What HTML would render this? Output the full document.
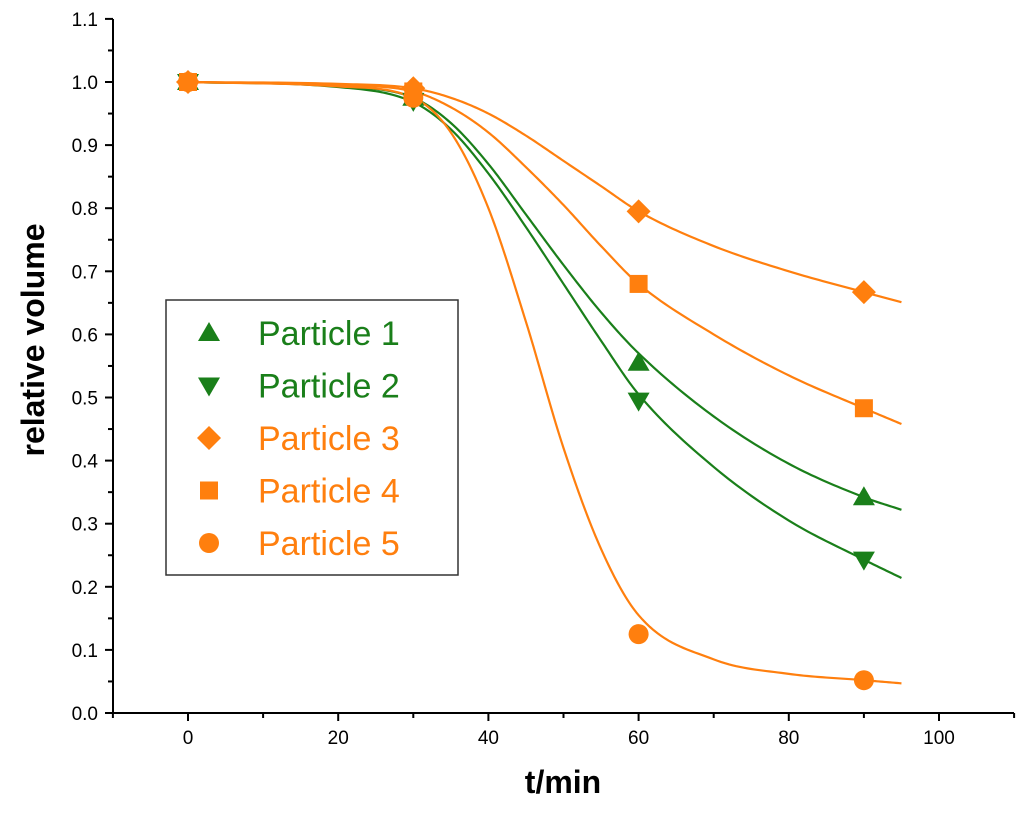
<!DOCTYPE html>
<html><head><meta charset="utf-8"><style>
body{margin:0;background:#fff;font-family:"Liberation Sans",Arial,sans-serif}
</style></head><body>
<svg id="chart" width="1024" height="812" xmlns="http://www.w3.org/2000/svg" font-family="Liberation Sans, Arial, sans-serif"></svg>
<script>
const seriesNames=["Particle 1","Particle 2","Particle 3","Particle 4","Particle 5"];
const seriesColors=["#1a7f1a","#1a7f1a","#ff7f0e","#ff7f0e","#ff7f0e"];
const seriesMarkers=["up","down","diamond","square","circle"];
const measX=[0,30,60,90];
const p1=[1.0,0.975,0.555,0.342];
const p2=[1.0,0.97,0.495,0.243];
const p3=[1.0,0.99,0.795,0.667];
const p4=[1.0,0.985,0.68,0.483];
const p5=[1.0,0.975,0.125,0.052];
const fitX=[0,20,30,35,40,45,50,55,60,70,80,90,95];
const f1=[1,0.993,0.975,0.935,0.87,0.79,0.71,0.635,0.57,0.47,0.395,0.342,0.322];
const f2=[1,0.992,0.968,0.925,0.855,0.77,0.68,0.59,0.505,0.39,0.305,0.243,0.214];
const f3=[1,0.997,0.99,0.975,0.95,0.915,0.875,0.835,0.795,0.74,0.70,0.667,0.651];
const f4=[1,0.995,0.985,0.96,0.92,0.865,0.805,0.74,0.68,0.60,0.535,0.483,0.458];
const f5=[1,0.993,0.975,0.92,0.80,0.62,0.42,0.26,0.155,0.085,0.062,0.052,0.047];
const xTicks=[0,20,40,60,80,100];
const yTicks=[0.0,0.1,0.2,0.3,0.4,0.5,0.6,0.7,0.8,0.9,1.0,1.1];
const svg=document.getElementById('chart');
const NS='http://www.w3.org/2000/svg';
const X=v=>188+v*7.51;
const Y=v=>713-v*631;
function mk(t,a){const e=document.createElementNS(NS,t);for(const k in a)e.setAttribute(k,a[k]);svg.appendChild(e);return e;}
let ax=mk('path',{d:`M113,19 V713 H1014`,fill:'none',stroke:'#000','stroke-width':2});


for(let i=-10;i<=110;i+=10){const big=i%20===0;
 let t=mk('line',{x1:X(i),x2:X(i),y1:713,y2:713+(big?8:5),stroke:'#000','stroke-width':2});
 
 }
xTicks.forEach(v=>{let t=mk('text',{x:X(v),y:744,'font-size':19,'text-anchor':'middle'});t.textContent=v;
 
 });
for(let i=0;i<=22;i++){const v=i*0.05;const big=i%2===0;
 let t=mk('line',{x1:113-(big?8:5),x2:113,y1:Y(v),y2:Y(v),stroke:'#000','stroke-width':2});
 
 }
yTicks.forEach(v=>{let t=mk('text',{x:98,y:Y(v)+7,'font-size':19,'text-anchor':'end'});t.textContent=v.toFixed(1);
 
 });
let xl=mk('text',{x:563,y:793,'font-size':32,'font-weight':'bold','text-anchor':'middle'});xl.textContent='t/min';


let yl=mk('text',{x:0,y:0,'font-size':32,'font-weight':'bold','text-anchor':'middle',transform:'translate(44,340) rotate(-90)'});yl.textContent='relative volume';


// monotone cubic (Fritsch-Carlson)
function monotone(xs,ys){const n=xs.length,d=[],m=[];
 for(let i=0;i<n-1;i++)d.push((ys[i+1]-ys[i])/(xs[i+1]-xs[i]));
 m[0]=d[0];m[n-1]=d[n-2];
 for(let i=1;i<n-1;i++)m[i]=(d[i-1]*d[i]<=0)?0:(d[i-1]+d[i])/2;
 for(let i=0;i<n-1;i++){if(d[i]===0){m[i]=m[i+1]=0;continue;}const a=m[i]/d[i],b=m[i+1]/d[i],s=a*a+b*b;if(s>9){const t=3/Math.sqrt(s);m[i]=t*a*d[i];m[i+1]=t*b*d[i];}}
 let pts=[];
 for(let i=0;i<n-1;i++){const h=xs[i+1]-xs[i];for(let k=0;k<20;k++){const t=k/20,t2=t*t,t3=t2*t;
  const y=(2*t3-3*t2+1)*ys[i]+(t3-2*t2+t)*h*m[i]+(-2*t3+3*t2)*ys[i+1]+(t3-t2)*h*m[i+1];
  pts.push(X(xs[i]+t*h).toFixed(2)+','+Y(y).toFixed(2));}}
 pts.push(X(xs[n-1])+','+Y(ys[n-1]));return pts.join(' ');}
function marker(type,cx,cy,c){let e;
 if(type==='up')e=mk('polygon',{points:`${cx},${cy-11} ${cx-11},${cy+8} ${cx+11},${cy+8}`,fill:c});
 else if(type==='down')e=mk('polygon',{points:`${cx},${cy+11} ${cx-11},${cy-8} ${cx+11},${cy-8}`,fill:c});
 else if(type==='diamond')e=mk('polygon',{points:`${cx},${cy-12} ${cx+12},${cy} ${cx},${cy+12} ${cx-12},${cy}`,fill:c});
 else if(type==='square')e=mk('rect',{x:cx-9,y:cy-9,width:18,height:18,fill:c});
 else e=mk('circle',{cx:cx,cy:cy,r:10,fill:c});return e;}
const fits=[f1,f2,f3,f4,f5],meas=[p1,p2,p3,p4,p5];
fits.forEach((f,i)=>{let p=mk('polyline',{points:monotone(fitX,f),fill:'none',stroke:seriesColors[i],'stroke-width':2.2});
 
 });
meas.forEach((m,i)=>m.forEach((v,j)=>{let e=marker(seriesMarkers[i],X(measX[j]),Y(v),seriesColors[i]);
 
 }));
let lb=mk('rect',{x:166,y:300,width:292,height:275,fill:'#fff',stroke:'#333','stroke-width':1.5});


seriesNames.forEach((n,i)=>{const cy=333+i*52.5;
 let m=marker(seriesMarkers[i],209,cy,seriesColors[i]);
 
 
 let t=mk('text',{x:258,y:cy+12,'font-size':34,fill:seriesColors[i]});t.textContent=n;
 
 });
</script>
</body></html>
